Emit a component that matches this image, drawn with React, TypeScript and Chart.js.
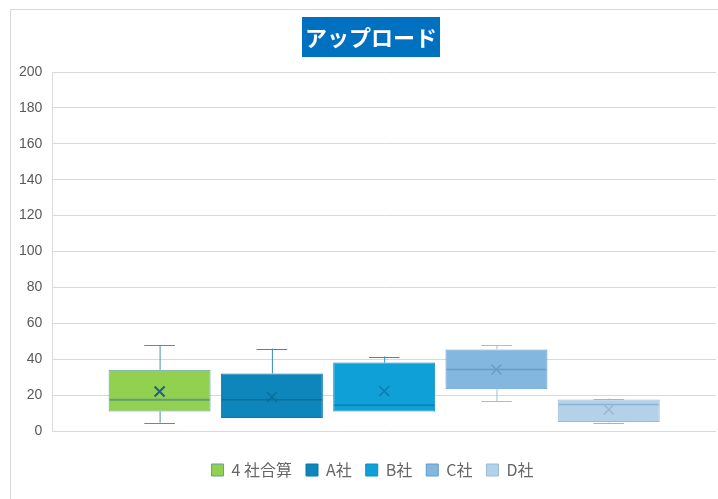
import React, { useEffect, useRef } from 'react';
import { Chart, registerables } from 'chart.js';

Chart.register(...registerables);

const chartTitle = 'アップロード';
const categories = ['4 社合算', 'A社', 'B社', 'C社', 'D社'];
const q1Values = [10.9, 7.2, 10.9, 23.2, 5.0];
const q3Values = [34.1, 32.0, 38.1, 45.4, 17.6];
const medianValues = [17.4, 17.4, 14.3, 34.3, 14.8];
const meanValues = [22.0, 18.9, 22.2, 34.3, 12.0];
const whiskerMinValues = [4.6, 7.2, 10.9, 16.7, 4.6];
const whiskerMaxValues = [47.8, 45.9, 41.5, 47.8, 18.1];
const yTicks = [0, 20, 40, 60, 80, 100, 120, 140, 160, 180, 200];

const fillColors = ['#92D050', '#0E86BB', '#10A0D8', '#83B7DF', '#B4D1EA'];
const borderColors = ['#5E9DB8', '#0B78A8', '#0C8DC2', '#5F9DCB', '#9BBAD6'];
const medianColors = ['#5E9E70', '#0A6E9C', '#0A80B2', '#6A9DC6', '#8FB3D3'];
const meanColors = ['#1F5F8B', '#0A6E9C', '#0A80B2', '#6A9DC6', '#9AB7CF'];
const whiskerColors = ['#4A90B8', '#3A8CB3', '#2A91C0', '#9CC0DC', '#9AB8D3'];

const boxExtras = {
  id: 'boxExtras',
  afterLayout(chart: any) {
    if (chart.legend) {
      chart.legend.left += 10;
      chart.legend.right += 10;
    }
  },
  afterDatasetsDraw(chart: any) {
    const y = chart.scales.y;
    const ctx = chart.ctx;
    chart.data.datasets.forEach((_ds: any, i: number) => {
      const meta = chart.getDatasetMeta(i);
      const bar: any = meta.data[0];
      if (!bar) return;
      const cx = bar.x;
      const w = bar.width;
      const left = cx - w / 2;
      const right = cx + w / 2;
      const capHalf = w * 0.15;
      ctx.save();
      ctx.strokeStyle = whiskerColors[i];
      ctx.lineWidth = 1;
      const yq3 = y.getPixelForValue(q3Values[i]);
      const yq1 = y.getPixelForValue(q1Values[i]);
      const ymax = y.getPixelForValue(whiskerMaxValues[i]);
      const ymin = y.getPixelForValue(whiskerMinValues[i]);
      ctx.beginPath();
      if (whiskerMaxValues[i] > q3Values[i]) {
        ctx.moveTo(cx + 0.5, yq3);
        ctx.lineTo(cx + 0.5, ymax);
      }
      ctx.moveTo(cx - capHalf, Math.round(ymax) + 0.5);
      ctx.lineTo(cx + capHalf, Math.round(ymax) + 0.5);
      if (whiskerMinValues[i] < q1Values[i]) {
        ctx.moveTo(cx + 0.5, yq1);
        ctx.lineTo(cx + 0.5, ymin);
        ctx.moveTo(cx - capHalf, Math.round(ymin) + 0.5);
        ctx.lineTo(cx + capHalf, Math.round(ymin) + 0.5);
      }
      ctx.stroke();
      const ymed = y.getPixelForValue(medianValues[i]);
      ctx.strokeStyle = medianColors[i];
      ctx.lineWidth = i === 0 ? 2 : 1.5;
      ctx.beginPath();
      ctx.moveTo(left + 1, ymed);
      ctx.lineTo(right - 1, ymed);
      ctx.stroke();
      const ymean = y.getPixelForValue(meanValues[i]);
      const s = 5;
      ctx.strokeStyle = meanColors[i];
      ctx.lineWidth = i === 0 ? 2 : 1.5;
      ctx.beginPath();
      ctx.moveTo(cx - s, ymean - s);
      ctx.lineTo(cx + s, ymean + s);
      ctx.moveTo(cx + s, ymean - s);
      ctx.lineTo(cx - s, ymean + s);
      ctx.stroke();
      ctx.restore();
    });
  },
  afterDraw(chart: any) {
    const ctx = chart.ctx;
    ctx.save();
    ctx.font = 'bold 22px "Noto Sans CJK JP"';
    const tw = ctx.measureText(chartTitle).width;
    const cx = 371;
    const w = tw + 6;
    ctx.fillStyle = '#0070C0';
    ctx.fillRect(cx - w / 2, 17, w, 40);
    ctx.fillStyle = '#FFFFFF';
    ctx.textAlign = 'center';
    ctx.textBaseline = 'middle';
    ctx.fillText(chartTitle, cx, 37.5);
    ctx.restore();
  },
};

export default function App() {
  const ref = useRef<HTMLCanvasElement | null>(null);
  useEffect(() => {
    if (!ref.current) return;
    const datasets = categories.map((name, i) => ({
      label: name,
      data: [[q1Values[i], q3Values[i]]],
      backgroundColor: fillColors[i],
      borderColor: borderColors[i],
      borderWidth: 1,
      borderSkipped: false,
    }));
    const chart = new Chart(ref.current, {
      type: 'bar',
      data: { labels: [''], datasets: datasets as any },
      options: {
        animation: false,
        responsive: false,
        devicePixelRatio: 1,
        layout: { padding: { top: 72, left: 9, right: 2, bottom: 11 } },
        datasets: { bar: { categoryPercentage: 0.846, barPercentage: 0.908 } },
        scales: {
          x: {
            display: true,
            grid: { display: false },
            border: { display: false },
            ticks: { display: false },
            afterFit: (scale: any) => {
              scale.height = 17;
            },
          },
          y: {
            min: 0,
            max: 200,
            afterBuildTicks: (scale: any) => {
              scale.ticks = yTicks.map((v) => ({ value: v }));
            },
            grid: { color: '#D9D9D9', drawTicks: false },
            border: { display: true, color: '#D9D9D9' },
            ticks: {
              padding: 10,
              color: '#595959',
              font: { family: '"Liberation Sans", Arial, sans-serif', size: 14 },
            },
          },
        },
        plugins: {
          title: { display: false },
          tooltip: { enabled: false },
          legend: {
            display: true,
            position: 'bottom',
            labels: {
              boxWidth: 12,
              boxHeight: 12,
              padding: 14,
              color: '#666666',
              font: { family: '"Noto Sans CJK JP"', size: 16 },
            },
          },
        },
      },
      plugins: [boxExtras],
    });
    return () => chart.destroy();
  }, []);
  return (
    <div style={{ position: 'absolute', left: 0, top: 0, width: 718, height: 499, overflow: 'hidden', background: '#fff' }}>
      <div
        style={{
          position: 'absolute',
          left: 10,
          top: 9,
          width: 720,
          height: 500,
          border: '1px solid #D9D9D9',
        }}
      />
      <canvas ref={ref} width={718} height={499} style={{ position: 'absolute', left: 0, top: 0, width: 718, height: 499 }} />
    </div>
  );
}
